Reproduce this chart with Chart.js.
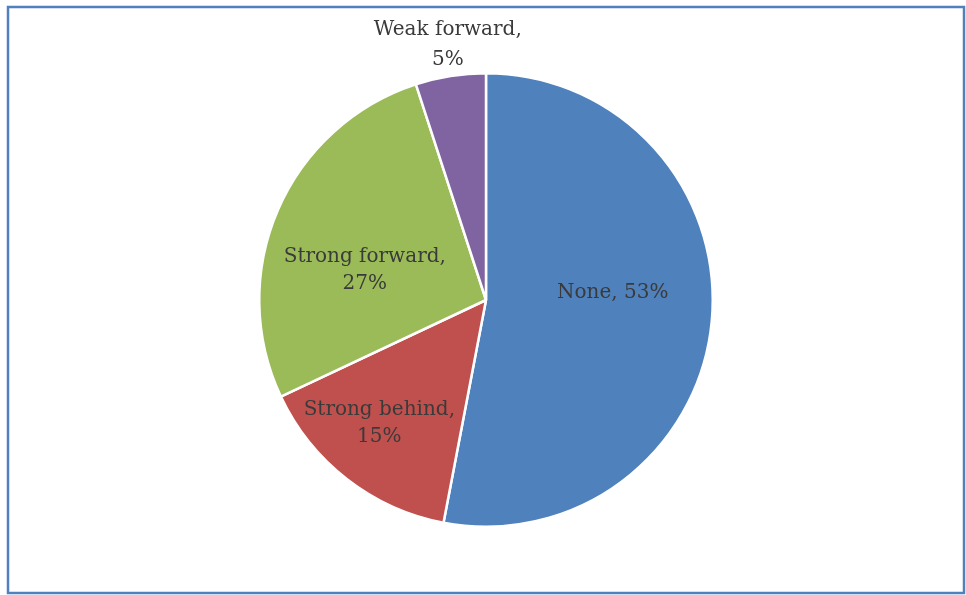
<!DOCTYPE html>
<html lang="en">
<head>
<meta charset="UTF-8">
<title>Pie</title>
<script src="https://cdn.jsdelivr.net/npm/chart.js@4"></script>
<style>
  html, body { margin: 0; padding: 0; background: #fff; }
  #wrap { width: 966px; height: 595px; }
</style>
<script>
// slice data, clockwise from 12 o'clock
const categories = ['None', 'Strong behind', 'Strong forward', 'Weak forward'];
const shares = [53, 15, 27, 5];
const sliceColors = ['#4F81BD', '#C0504D', '#9BBB59', '#8064A2'];

// where each label sits: angle offset from slice middle (deg), radius fraction, line gap
const labelShift = [-8.5, 3, -9.8, 0.5];
const labelRadius = [0.56, 0.72, 0.55, 1.14];
const lineGap = [0, 27, 27, 30];

// frame around the whole chart
const framePlugin = {
  id: 'frame',
  afterDraw(chart) {
    const c = chart.ctx;
    c.save();
    c.strokeStyle = '#4F81BD';
    c.lineWidth = 2.5;
    c.strokeRect(8, 7, 956, 586);
    c.restore();
  }
};

// category, percent labels
const labelPlugin = {
  id: 'sliceLabels',
  afterDatasetsDraw(chart) {
    const c = chart.ctx;
    const meta = chart.getDatasetMeta(0);
    c.save();
    c.font = '20px "DejaVu Serif"';
    c.fillStyle = '#3a3a3a';
    c.textAlign = 'center';
    c.textBaseline = 'middle';
    meta.data.forEach((arc, i) => {
      const mid = (arc.startAngle + arc.endAngle) / 2 + labelShift[i] * Math.PI / 180;
      const r = arc.outerRadius * labelRadius[i];
      const x = arc.x + Math.cos(mid) * r;
      const y = arc.y + Math.sin(mid) * r;
      if (i === 0) {
        c.fillText(categories[i] + ', ' + shares[i] + '%', x, y);
      } else {
        c.fillText(categories[i] + ',', x, y - lineGap[i] / 2);
        c.fillText(shares[i] + '%', x, y + lineGap[i] / 2);
      }
    });
    c.restore();
  }
};

document.addEventListener('DOMContentLoaded', function() {
  const ctx = document.getElementById('pie').getContext('2d');
  new Chart(ctx, {
    type: 'pie',
    data: {
      labels: categories,
      datasets: [{
        data: shares,
        backgroundColor: sliceColors,
        borderColor: '#ffffff',
        borderWidth: 2.5
      }]
    },
    options: {
      responsive: false,
      animation: false,
      layout: { padding: { top: 72, bottom: 67, left: 6, right: 0 } },
      plugins: {
        legend: { display: false },
        tooltip: { enabled: false }
      }
    },
    plugins: [framePlugin, labelPlugin]
  });
});
</script>
</head>
<body>
<div id="wrap">
  <canvas id="pie" width="966" height="595"></canvas>
</div>
</body>
</html>
